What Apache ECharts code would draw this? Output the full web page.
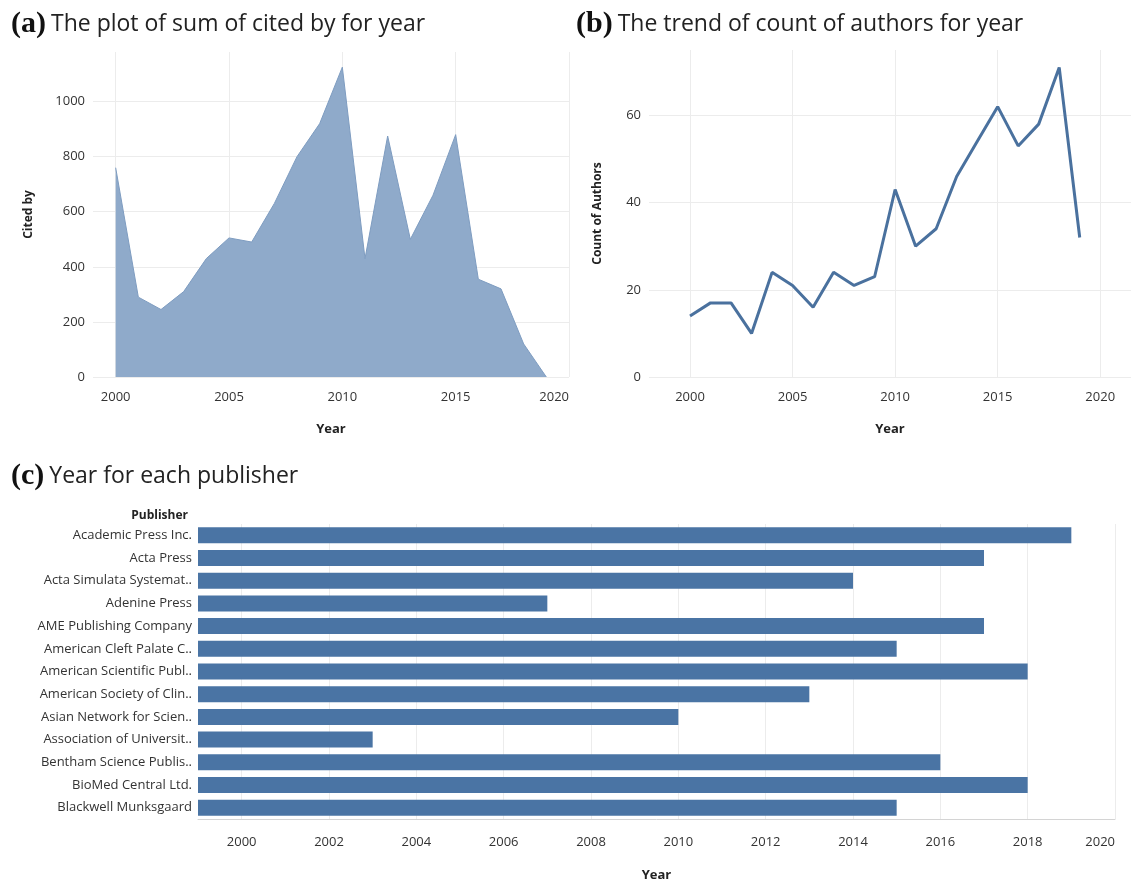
<!DOCTYPE html>
<html>
<head>
<meta charset="utf-8">
<script src="https://cdn.jsdelivr.net/npm/echarts@6/dist/echarts.min.js"></script>
<style>
  html, body { margin: 0; padding: 0; background: #fff; }
  #chart { width: 1137px; height: 883px; }
</style>
</head>
<body>
<div id="chart"></div>
<script>
// (a) sum of cited by, per year
const citedYears = [2000, 2001, 2002, 2003, 2004, 2005, 2006, 2007, 2008, 2009, 2010, 2011, 2012, 2013, 2014, 2015, 2016, 2017, 2018, 2019];
const citedBy = [760, 290, 245, 310, 430, 505, 490, 630, 800, 920, 1125, 430, 875, 500, 660, 880, 355, 320, 120, 0];

// (b) count of authors, per year
const authorYears = [2000, 2001, 2002, 2003, 2004, 2005, 2006, 2007, 2008, 2009, 2010, 2011, 2012, 2013, 2014, 2015, 2016, 2017, 2018, 2019];
const authorCount = [14, 17, 17, 10, 24, 21, 16, 24, 21, 23, 43, 30, 34, 46, 54, 62, 53, 58, 71, 32];

// (c) year for each publisher
const publishers = [
  'Academic Press Inc.', 'Acta Press', 'Acta Simulata Systemat..', 'Adenine Press',
  'AME Publishing Company', 'American Cleft Palate C..', 'American Scientific Publ..',
  'American Society of Clin..', 'Asian Network for Scien..', 'Association of Universit..',
  'Bentham Science Publis..', 'BioMed Central Ltd.', 'Blackwell Munksgaard'
];
const publisherYear = [2019, 2017, 2014, 2007, 2017, 2015, 2018, 2013, 2010, 2003, 2016, 2018, 2015];

const font = '"Open Sans", "DejaVu Sans", sans-serif';
const gridColor = '#ececec';
const none = 'rgba(0,0,0,0)';

let myChart = echarts.init(document.getElementById('chart'));

function panelTitle(tag, text, top) {
  return {
    text: '{p|' + tag + '} {t|' + text + '}',
    top: top,
    textStyle: {
      fontWeight: 'normal',
      rich: {
        p: { fontFamily: '"Liberation Serif", serif', fontWeight: 'bold', fontSize: 30, color: '#111' },
        t: { fontFamily: font, fontWeight: 'normal', fontSize: 23, color: '#222' }
      }
    }
  };
}

// year axis: one tick per year, only some labelled / gridded
function yearAxis(gridIndex, min, max, step, colors) {
  return {
    type: 'value',
    gridIndex: gridIndex,
    min: min,
    max: max,
    interval: 1,
    name: 'Year',
    nameLocation: 'middle',
    nameGap: gridIndex == 2 ? 50 : 46,
    nameTextStyle: { fontFamily: font, fontWeight: 'bold', fontSize: 13, color: '#222' },
    axisLine: { show: gridIndex == 2, lineStyle: { color: '#d4d4d4' } },
    axisTick: { show: false },
    axisLabel: {
      fontFamily: font, fontSize: 13, color: '#333', margin: gridIndex == 2 ? 17 : 14,
      alignMaxLabel: 'right',
      formatter: v => (v % step === 0 ? String(v) : '')
    },
    splitLine: { show: true, lineStyle: { color: colors, width: 1 } }
  };
}

function countAxis(gridIndex, max, name) {
  return {
    type: 'value',
    gridIndex: gridIndex,
    min: 0,
    max: max,
    interval: gridIndex == 0 ? 200 : 20,
    name: name,
    nameLocation: 'middle',
    nameGap: gridIndex == 0 ? 58 : 45,
    nameTextStyle: { fontFamily: font, fontWeight: 'bold', fontSize: 12, color: '#222' },
    axisLine: { show: false },
    axisTick: { show: false },
    axisLabel: {
      fontFamily: font, fontSize: 13, color: '#333', margin: 8, showMaxLabel: false,
      formatter: v => String(v)
    },
    splitLine: { show: true, showMaxLine: false, lineStyle: { color: gridColor } }
  };
}

let option = {
  animation: false,
  backgroundColor: '#fff',
  title: [
    Object.assign(panelTitle('(a)', 'The plot of sum of cited by for year', 4), { left: 6 }),
    Object.assign(panelTitle('(b)', 'The trend of count of authors for year', 4), { left: 571 }),
    Object.assign(panelTitle('(c)', 'Year for each publisher', 456), { left: 6 }),
    {
      text: 'Publisher',
      right: 1137 - 193,
      top: 505,
      textStyle: { fontFamily: font, fontWeight: 'bold', fontSize: 12, color: '#222' }
    }
  ],
  grid: [
    { left: 93, right: 1137 - 569, top: 52, bottom: 883 - 377 },
    { left: 649, right: 6, top: 50, bottom: 883 - 377 },
    { left: 198, right: 1137 - 1115, top: 524, bottom: 883 - 823 }
  ],
  xAxis: [
    yearAxis(0, 1999, 2020, 5, [none, gridColor, none, none, none]),
    yearAxis(1, 1998, 2021.5, 5, [none, none, gridColor, none, none]),
    yearAxis(2, 1999, 2020, 2, [none, gridColor])
  ],
  yAxis: [
    countAxis(0, 1180, 'Cited by'),
    countAxis(1, 75, 'Count of Authors'),
    {
      type: 'category',
      gridIndex: 2,
      inverse: true,
      data: publishers,
      axisLine: { show: false },
      axisTick: { show: false },
      splitLine: { show: false },
      axisLabel: { fontFamily: font, fontSize: 13, color: '#333', margin: 6 }
    }
  ],
  series: [
    {
      type: 'line',
      xAxisIndex: 0,
      yAxisIndex: 0,
      data: citedYears.map((y, i) => [y, citedBy[i]]),
      symbol: 'none',
      lineStyle: { color: '#7e9cc0', width: 1 },
      areaStyle: { color: '#8faaca', opacity: 1 }
    },
    {
      type: 'line',
      xAxisIndex: 1,
      yAxisIndex: 1,
      data: authorYears.map((y, i) => [y, authorCount[i]]),
      symbol: 'none',
      lineStyle: { color: '#4a719e', width: 3 }
    },
    {
      type: 'bar',
      xAxisIndex: 2,
      yAxisIndex: 2,
      data: publisherYear,
      barWidth: 16,
      itemStyle: { color: '#4a74a4' }
    }
  ]
};

myChart.setOption(option);
</script>
</body>
</html>
